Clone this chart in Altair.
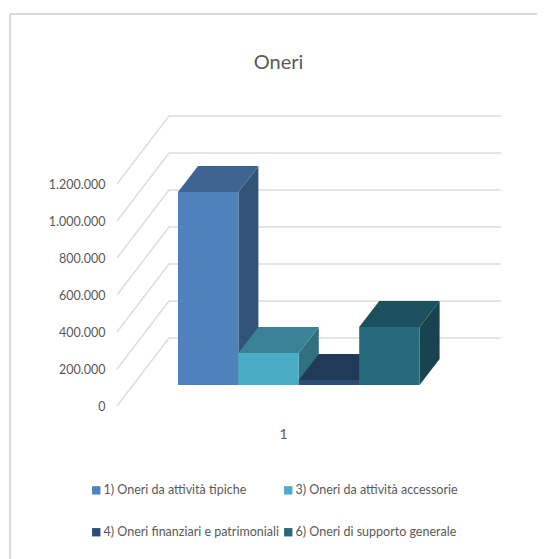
import altair as alt
import pandas as pd

# ---- data ----
series = ["1) Oneri da attività tipiche", "3) Oneri da attività accessorie",
          "4) Oneri finanziari e patrimoniali", "6) Oneri di supporto generale"]
values = [1043000, 173000, 27000, 313000]
ticks = [0, 200000, 400000, 600000, 800000, 1000000, 1200000]
front_colors = ["#4F81BD", "#4BACC6", "#2C4D75", "#276A7C"]
top_colors = ["#3E6491", "#3A8296", "#213A58", "#1D505E"]
side_colors = ["#325479", "#31707F", "#1D3350", "#1A4350"]
category = "1"
FONT = "Lato"

# ---- chart geometry ----
W, H = 529, 551
PX_PER_VALUE = 37 / 200000          # vertical pixels per unit of value
BAR_PX = 60.4                       # one category slot on the x scale
X0_PX = 170                         # x pixel of slot 0 inside the chart
Y0_PX = 398                         # y pixel of value 0 on the front axis


def xu(px):
    return (px - X0_PX) / BAR_PX


def yu(px):
    return px / PX_PER_VALUE


floor = yu(21)       # front edge of the floor to the foot of the bars
bar_dx = xu(X0_PX + 20)
bar_dy = yu(26)
wall_dy = yu(68)
wall_left, wall_back, wall_right = xu(109), xu(161), xu(493)

x_scale = alt.Scale(domain=[xu(0), xu(W)], nice=False, zero=False)
y_scale = alt.Scale(domain=[-(H - Y0_PX) / PX_PER_VALUE, Y0_PX / PX_PER_VALUE], nice=False, zero=False)
# Vega fills legend columns first, so the domain lists the rows' entries column by column
legend_order = [0, 2, 1, 3]
color_scale = alt.Scale(domain=[series[i] for i in legend_order],
                        range=[front_colors[i] for i in legend_order])

y_axis = alt.Axis(values=ticks, labelExpr="replace(format(datum.value, ','), /,/g, '.')",
                  domain=False, ticks=False, grid=False, title=None, offset=-97, labelPadding=0,
                  labelFont=FONT, labelFontSize=12.5, labelColor="#595959")
x_axis = alt.Axis(values=[xu(275)], labelExpr="'" + category + "'", domain=False, ticks=False,
                  grid=False, title=None, offset=-(H - 419), labelPadding=0,
                  labelFont=FONT, labelFontSize=14, labelColor="#595959")

X = lambda f: alt.X(f, type="quantitative", scale=x_scale, axis=x_axis)
Y = lambda f: alt.Y(f, type="quantitative", scale=y_scale, axis=y_axis)

# walls: diagonal floor-to-wall line, then the horizontal line on the back wall
grid_rows = []
for t in ticks:
    grid_rows += [{"t": t, "x": wall_left, "y": t}, {"t": t, "x": wall_back, "y": t + wall_dy},
                  {"t": t, "x": wall_right, "y": t + wall_dy}]
grid = alt.Chart(pd.DataFrame(grid_rows)).mark_line(color="#DDDDDD", strokeWidth=1.5).encode(
    x=X("x"), y=Y("y"), detail="t:N", order=alt.Order("x:Q"))

layers = [grid]
for i, (name, v) in enumerate(zip(series, values)):
    left, right = float(i), float(i + 1)
    base, top = floor, floor + v
    side = alt.Chart(pd.DataFrame([
        {"x": right, "y": base, "y2": top},
        {"x": right + bar_dx, "y": base + bar_dy, "y2": top + bar_dy}])
    ).mark_area(color=side_colors[i]).encode(x=X("x"), y=Y("y"), y2="y2:Q")
    cap = alt.Chart(pd.DataFrame([
        {"y": top, "x": left, "x2": right},
        {"y": top + bar_dy, "x": left + bar_dx, "x2": right + bar_dx}])
    ).mark_area(color=top_colors[i], orient="horizontal").encode(x=X("x"), x2="x2:Q", y=Y("y"))
    front = alt.Chart(pd.DataFrame([
        {"name": name, "x": left, "x2": right, "y": base, "y2": top}])
    ).mark_rect().encode(
        x=X("x"), x2="x2:Q", y=Y("y"), y2="y2:Q",
        color=alt.Color("name:N", scale=color_scale, legend=alt.Legend(
            title=None, orient="none", legendX=82, legendY=476, columns=2,
            symbolType="square", symbolSize=70, symbolStrokeWidth=0, labelOffset=1,
            columnPadding=3, rowPadding=29, labelLimit=300,
            labelFont=FONT, labelFontSize=12.5, labelColor="#595959")))
    layers += [side, cap, front]

frame_left = alt.Chart(pd.DataFrame({"p": [2]})).mark_rule(color="#D9D9D9", strokeWidth=2).encode(
    x=alt.value(2), y=alt.value(6), y2=alt.value(H))
frame_top = alt.Chart(pd.DataFrame({"p": [6]})).mark_rule(color="#D9D9D9", strokeWidth=2).encode(
    y=alt.value(6), x=alt.value(2), x2=alt.value(W))
layers += [frame_left, frame_top]

chart = alt.layer(*layers).properties(
    width=W, height=H, padding=0, autosize=alt.AutoSizeParams(type="none"),
    background="white",
    title=alt.TitleParams("Oneri", font=FONT, fontSize=20, fontWeight="normal",
                          color="#595959", anchor="middle", baseline="alphabetic", offset=0, dy=81, dx=6),
).configure_view(stroke=None)

chart.save("out.html", embed_options={"renderer": "svg", "actions": False})
